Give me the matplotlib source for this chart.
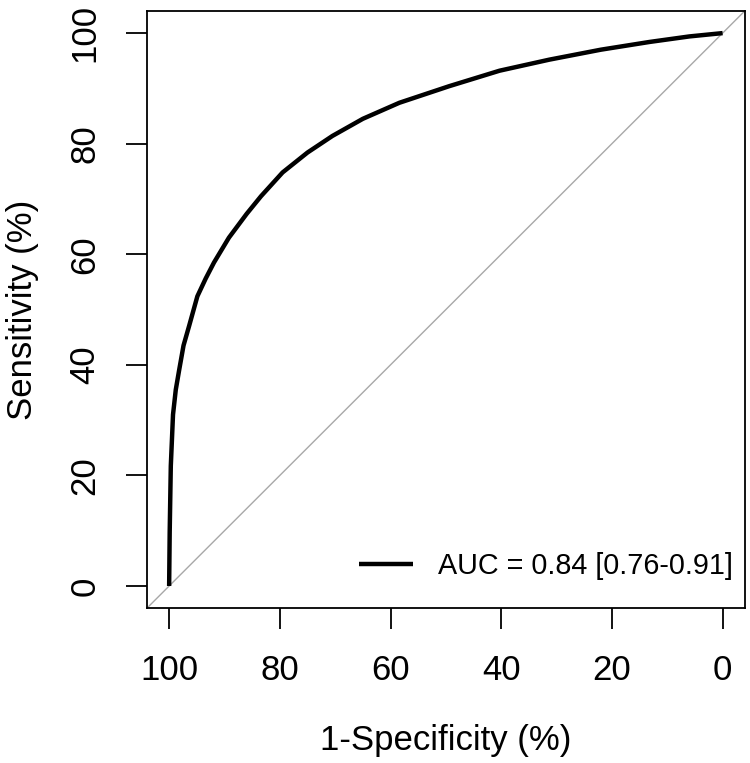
import matplotlib
matplotlib.use("Agg")
import matplotlib.pyplot as plt

# points (percent)
specificity = [100.0, 99.9, 99.7, 99.3, 98.8, 98.2, 97.4, 96.4, 94.9, 93.4,
               91.9, 89.2, 86.0, 83.4, 79.5, 75.0, 70.5, 65.0, 58.4, 49.4,
               40.3, 31.3, 22.0, 13.2, 6.0, 0.0]
sensitivity = [0.0, 9.7, 21.7, 31.0, 35.5, 39.0, 43.5, 47.0, 52.4, 55.6,
               58.5, 63.0, 67.3, 70.5, 74.8, 78.4, 81.4, 84.5, 87.4, 90.4,
               93.2, 95.2, 97.0, 98.4, 99.4, 100.0]
ticks = [100, 80, 60, 40, 20, 0]
legend_label = "AUC = 0.84 [0.76-0.91]"

plt.rcParams["font.family"] = ["Liberation Sans", "DejaVu Sans"]

fig = plt.figure(figsize=(7.5, 7.63), dpi=100)
ax = fig.add_axes([0.196, 0.203, 0.797, 0.7826])

ax.plot([110, -10], [-10, 110], color="#a8a8a8", linewidth=1.0, zorder=1)
ax.plot(specificity, sensitivity, color="k", linewidth=3.2,
        solid_capstyle="butt", solid_joinstyle="round", zorder=3,
        label=legend_label)

ax.set_xlim(104, -4)
ax.set_ylim(-4, 104)
ax.set_xticks(ticks)
ax.set_yticks(ticks)

for s in ax.spines.values():
    s.set_linewidth(1.3)
ax.tick_params(direction="out", length=15, width=1.3, labelsize=25,
               pad=18, color="k")
ax.tick_params(axis="y", labelrotation=90)
for lab in ax.get_yticklabels():
    lab.set_va("center")

xl = ax.set_xlabel("1-Specificity (%)", fontsize=25)
yl = ax.set_ylabel("Sensitivity (%)", fontsize=25)
xl.set_va("center")
yl.set_va("center")
ax.xaxis.set_label_coords(0.5, -0.221)
ax.yaxis.set_label_coords(-0.209, 0.5)

ax.legend(loc="lower right", bbox_to_anchor=(1.023, 0.004), frameon=False,
          fontsize=20.7, handlelength=1.9, handletextpad=0.85)

fig.savefig("out.png", dpi=100)
